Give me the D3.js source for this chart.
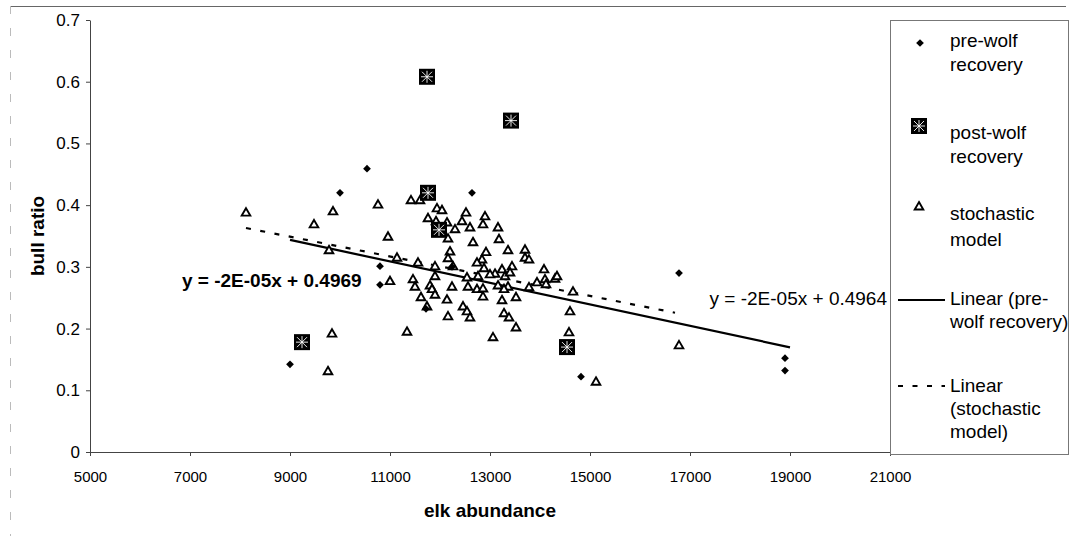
<!DOCTYPE html>
<html>
<head>
<meta charset="utf-8">
<script src="https://cdn.jsdelivr.net/npm/d3@7"></script>
<style>
  body { margin: 0; background: #fff; }
  svg { display: block; font-family: 'Liberation Sans', Arial, sans-serif; }
</style>
</head>
<body>
<div id="chart"></div>
<script>
// data
const xTicks = [5000, 7000, 9000, 11000, 13000, 15000, 17000, 19000, 21000];
const yTicks = [0, 0.1, 0.2, 0.3, 0.4, 0.5, 0.6, 0.7];

const preWolf = [
  [9000, 0.142], [10000, 0.420], [10540, 0.459], [12640, 0.420], [10800, 0.301],
  [10800, 0.271], [12240, 0.300], [11720, 0.232], [16780, 0.290], [14820, 0.122],
  [18900, 0.152], [18900, 0.132],
];

const postWolf = [
  [11740, 0.608], [13420, 0.537], [11760, 0.420], [11980, 0.360], [9240, 0.178], [14540, 0.170],
];

const stochastic = [
  [8120, 0.387], [9480, 0.368], [9860, 0.389], [9780, 0.326], [9840, 0.191], [9760, 0.130],
  [10760, 0.400], [11420, 0.407], [11600, 0.407], [11760, 0.378], [10960, 0.348], [11140, 0.314],
  [11000, 0.276], [11460, 0.279], [11560, 0.306], [11940, 0.394], [12040, 0.391], [11920, 0.373],
  [12140, 0.371], [12520, 0.387], [12440, 0.373], [12900, 0.381], [12860, 0.368], [12600, 0.363],
  [12300, 0.360], [12160, 0.345], [13160, 0.363], [12660, 0.339], [13180, 0.344], [12200, 0.324],
  [12920, 0.323], [13360, 0.326], [13700, 0.327], [12160, 0.313], [12840, 0.311], [12740, 0.306],
  [13440, 0.300], [11900, 0.300], [12260, 0.300], [12880, 0.297], [13240, 0.295], [13100, 0.288],
  [13000, 0.287], [12760, 0.284], [11900, 0.284], [12540, 0.282], [13300, 0.284], [13400, 0.290],
  [11800, 0.269], [12240, 0.267], [12560, 0.267], [13160, 0.269], [13360, 0.267], [11500, 0.267],
  [11620, 0.250], [11740, 0.235], [11340, 0.194], [11840, 0.263], [11900, 0.254], [12140, 0.246],
  [12460, 0.235], [12540, 0.227], [12600, 0.217], [12160, 0.219], [12740, 0.263], [12860, 0.251],
  [12860, 0.264], [13280, 0.263], [13240, 0.245], [13520, 0.250], [13280, 0.224], [13380, 0.217],
  [13520, 0.201], [13060, 0.185], [13700, 0.314], [13780, 0.311], [14080, 0.295], [13940, 0.274],
  [14100, 0.279], [14120, 0.271], [14300, 0.280], [14340, 0.284], [13780, 0.266], [14660, 0.259],
  [14600, 0.227], [14580, 0.193], [16780, 0.172], [15120, 0.113],
];

// trend lines: [slope, intercept] and x extent
const preTrend = [-1.74e-5, 0.5002];
const preTrendRange = [9000, 19000];
const stochTrend = [-1.6e-5, 0.4929];
const stochTrendRange = [8120, 16700];

const preLabel = 'y = -2E-05x + 0.4969';
const stochLabel = 'y = -2E-05x + 0.4964';

const width = 1070;
const height = 536;
const plot = { left: 90, right: 890, top: 20, bottom: 452 };

const svg = d3.select('#chart').append('svg')
  .attr('width', width)
  .attr('height', height);

// outer chart frame (scan look: dark top, faint left)
svg.append('line')
  .attr('x1', 10).attr('x2', 1066).attr('y1', 6.5).attr('y2', 6.5)
  .attr('stroke', '#666').attr('stroke-width', 1);
svg.append('line')
  .attr('x1', 10.5).attr('x2', 10.5).attr('y1', 6).attr('y2', 536)
  .attr('stroke', '#bbb').attr('stroke-width', 1).attr('stroke-dasharray', '8,14');

const x = d3.scaleLinear().domain([5000, 21000]).range([plot.left, plot.right]);
const y = d3.scaleLinear().domain([0, 0.7]).range([plot.bottom, plot.top]);

const yAxis = svg.append('g')
  .attr('transform', `translate(${plot.left},0)`)
  .call(d3.axisLeft(y).tickValues(yTicks).tickSize(4).tickSizeOuter(0)
    .tickFormat((d) => (d === 0 ? '0' : d3.format('.1f')(d))));
yAxis.selectAll('text').attr('x', -10).attr('font-size', 17).attr('fill', '#000');

const xAxis = svg.append('g')
  .attr('transform', `translate(0,${plot.bottom})`)
  .call(d3.axisBottom(x).tickValues(xTicks).tickSize(4).tickSizeOuter(0).tickFormat(d3.format('d')));
xAxis.selectAll('text').attr('y', 30).attr('dy', 0).attr('font-size', 15).attr('fill', '#000');

svg.selectAll('.domain, .tick line').attr('stroke', '#444');

// axis titles
svg.append('text')
  .attr('x', (plot.left + plot.right) / 2)
  .attr('y', 517)
  .attr('text-anchor', 'middle')
  .attr('font-size', 19)
  .attr('font-weight', 'bold')
  .text('elk abundance');

svg.append('text')
  .attr('transform', `translate(44,${(plot.top + plot.bottom) / 2}) rotate(-90)`)
  .attr('text-anchor', 'middle')
  .attr('font-size', 19)
  .attr('font-weight', 'bold')
  .text('bull ratio');

// trend lines
const trendPoints = (coef, range) => range.map((v) => [x(v), y(coef[0] * v + coef[1])]);
const line = d3.line();

svg.append('path')
  .attr('d', line(trendPoints(stochTrend, stochTrendRange)))
  .attr('fill', 'none')
  .attr('stroke', '#000')
  .attr('stroke-width', 2.2)
  .attr('stroke-dasharray', '5,9.5');

svg.append('path')
  .attr('d', line(trendPoints(preTrend, preTrendRange)))
  .attr('fill', 'none')
  .attr('stroke', '#000')
  .attr('stroke-width', 2.2);

// markers
const diamond = d3.symbol().type(d3.symbolSquare).size(30);
const triangle = d3.symbol().type(d3.symbolTriangle).size(32);

const drawTriangle = (sel) => sel
  .attr('d', triangle())
  .attr('fill', '#fff')
  .attr('stroke', '#000')
  .attr('stroke-width', 1.9);

const drawDiamond = (sel) => sel
  .attr('d', diamond())
  .attr('fill', '#000');

const drawBox = (g) => {
  g.append('rect')
    .attr('x', -8).attr('y', -8).attr('width', 16).attr('height', 16)
    .attr('fill', '#000');
  [[0, -6, 0, 6], [-5, -5, 5, 5], [5, -5, -5, 5], [-6, 0, 6, 0]].forEach(([a, b, c, d]) => {
    g.append('line')
      .attr('x1', a).attr('y1', b).attr('x2', c).attr('y2', d)
      .attr('stroke', '#fff')
      .attr('stroke-width', 0.9);
  });
};

svg.append('g').selectAll('path')
  .data(stochastic)
  .enter().append('path')
  .attr('transform', (d) => `translate(${x(d[0])},${y(d[1])})`)
  .call(drawTriangle);

svg.append('g').selectAll('path')
  .data(preWolf)
  .enter().append('path')
  .attr('transform', (d) => `translate(${x(d[0])},${y(d[1])}) rotate(45)`)
  .call(drawDiamond);

svg.append('g').selectAll('g')
  .data(postWolf)
  .enter().append('g')
  .attr('transform', (d) => `translate(${x(d[0])},${y(d[1])})`)
  .each(function () { drawBox(d3.select(this)); });

// equation labels
svg.append('text')
  .attr('x', 182)
  .attr('y', 287)
  .attr('font-size', 19)
  .attr('font-weight', 'bold')
  .text(preLabel);

svg.append('text')
  .attr('x', 887)
  .attr('y', 305)
  .attr('text-anchor', 'end')
  .attr('font-size', 19)
  .text(stochLabel);

// legend
const legend = svg.append('g');
legend.append('rect')
  .attr('x', 890.5).attr('y', 20.5).attr('width', 178).attr('height', 434)
  .attr('fill', 'none')
  .attr('stroke', '#777')
  .attr('stroke-width', 1);

const legendText = [
  { lines: ['pre-wolf', 'recovery'], y: [47, 71] },
  { lines: ['post-wolf', 'recovery'], y: [139, 163] },
  { lines: ['stochastic', 'model'], y: [220, 246] },
  { lines: ['Linear (pre-', 'wolf recovery)'], y: [305, 328] },
  { lines: ['Linear', '(stochastic', 'model)'], y: [392, 415, 438] },
];

legendText.forEach((item) => {
  item.lines.forEach((t, i) => {
    legend.append('text')
      .attr('x', 950)
      .attr('y', item.y[i])
      .attr('font-size', 19)
      .text(t);
  });
});

legend.append('path')
  .attr('transform', 'translate(920,43) rotate(45)')
  .call(drawDiamond);

drawBox(legend.append('g').attr('transform', 'translate(919,126)'));

legend.append('path')
  .attr('transform', 'translate(919,207)')
  .call(drawTriangle);

legend.append('line')
  .attr('x1', 898).attr('x2', 945).attr('y1', 300).attr('y2', 300)
  .attr('stroke', '#000').attr('stroke-width', 2);

legend.append('line')
  .attr('x1', 898).attr('x2', 945).attr('y1', 386).attr('y2', 386)
  .attr('stroke', '#000').attr('stroke-width', 2)
  .attr('stroke-dasharray', '5,9.5');
</script>
</body>
</html>
